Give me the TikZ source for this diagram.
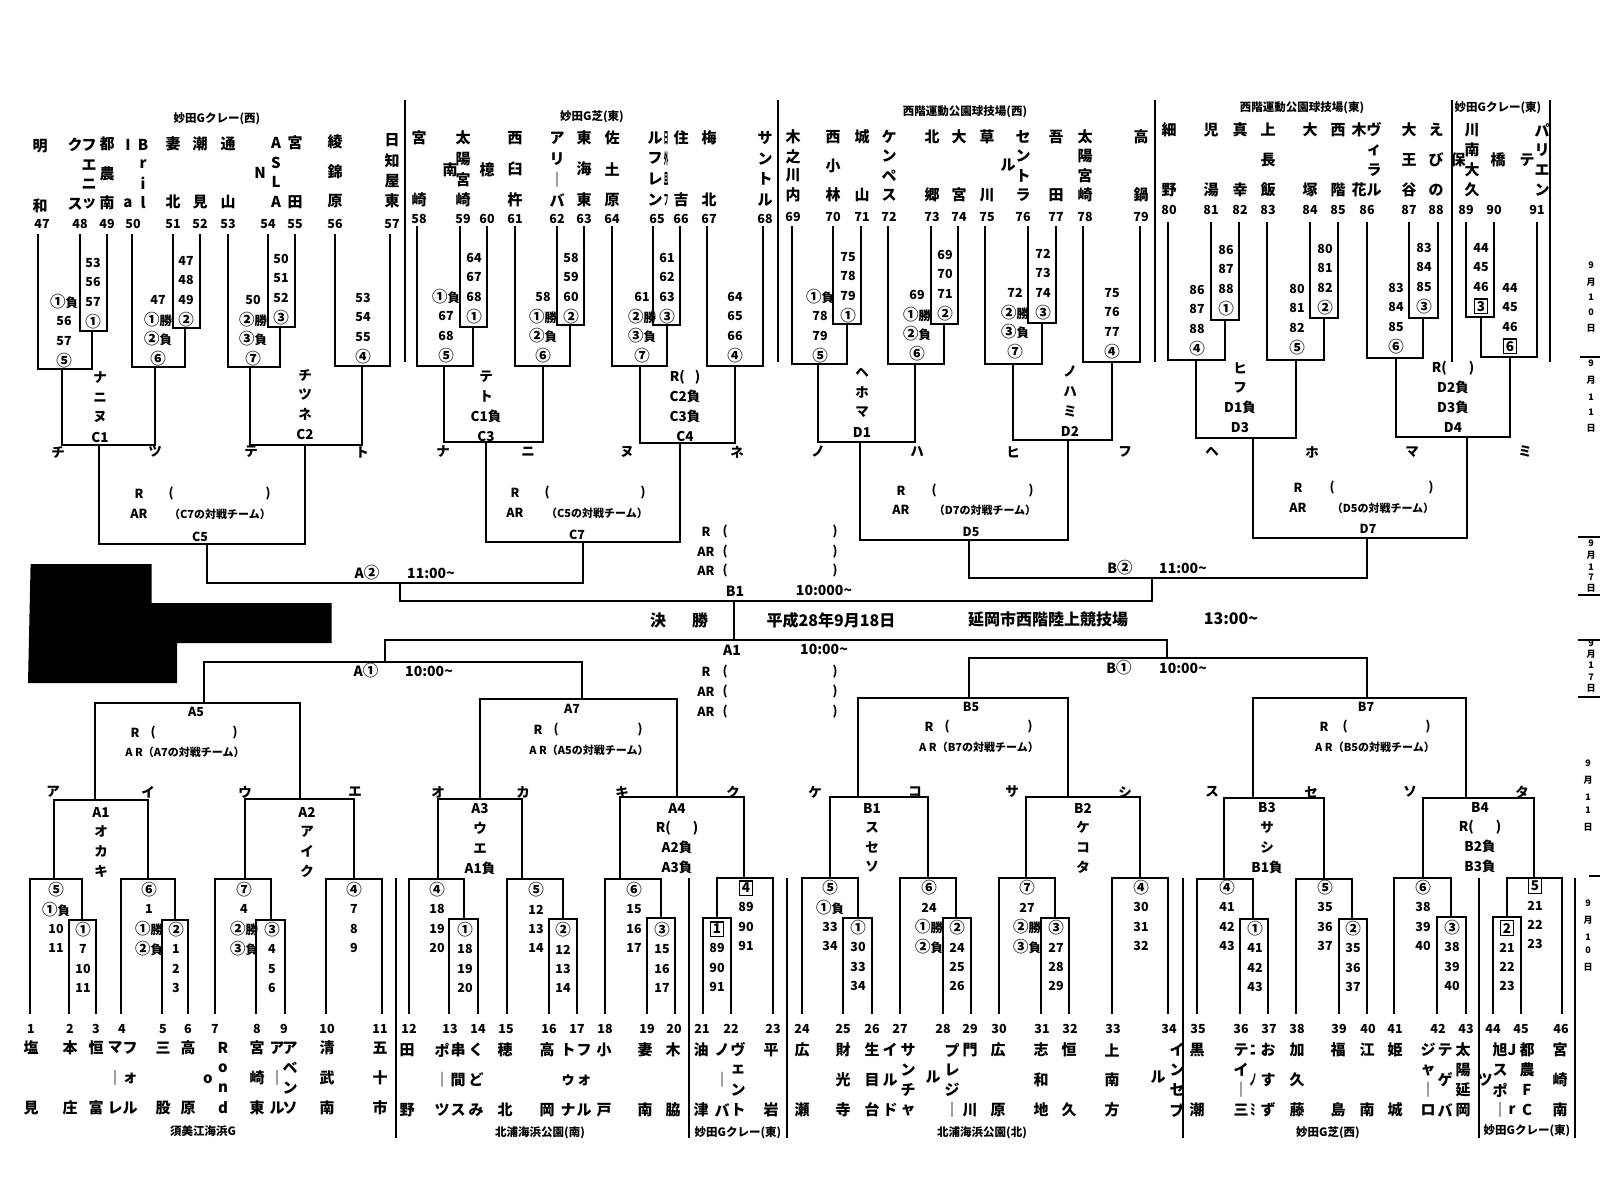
\documentclass[tikz,border=0pt]{standalone}
\usepackage{fontspec}
\usepackage{graphicx}
\setmainfont{Noto Sans CJK JP}
\setlength{\fboxsep}{1.6pt}\setlength{\fboxrule}{1.1pt}
\tikzset{
 ln/.style={line width=1.6pt, line cap=rect},
 thin/.style={line width=1.2pt},
 nm/.style={font=\fontsize{15}{15}\selectfont\bfseries, inner sep=0pt},
 num/.style={font=\fontsize{12.5}{12.5}\selectfont\bfseries, inner sep=0pt},
 lb/.style={font=\fontsize{12.5}{12.5}\selectfont\bfseries, inner sep=0pt},
 kn/.style={font=\fontsize{13.5}{13.5}\selectfont\bfseries, inner sep=0pt},
 ven/.style={font=\fontsize{11.5}{11.5}\selectfont\bfseries, inner sep=0pt},
 mid/.style={font=\fontsize{12.5}{12.5}\selectfont\bfseries, inner sep=0pt},
 sm/.style={font=\fontsize{11}{11}\selectfont\bfseries, inner sep=0pt},
 tm/.style={font=\fontsize{14}{14}\selectfont\bfseries, inner sep=0pt},
 big/.style={font=\fontsize{16}{16}\selectfont\bfseries, inner sep=0pt},
 dt/.style={font=\fontsize{9}{9}\selectfont\bfseries, inner sep=0pt},
}
\newcommand\Cn[1]{{\fontsize{15.5}{15.5}\selectfont #1}}
\newcommand\Sq[1]{\fbox{\fontsize{13.5}{13.5}\selectfont #1}}
\newcommand\Col[5]{\foreach \tx [count=\ii] in {#5}{\node[nm] at (#1,{#2+(\ii-1)*(#3-#2)/(#4-1)}) {\tx};}}
\newcommand\Lab[3]{\foreach \tx [count=\ii] in {#3}{\node[lb] at (#1,{#2+(\ii-1)*19.4}) {\tx};}}
\newcommand\Grp[3]{\foreach \tx [count=\ii] in {#3}{\node[kn] at (#1,{#2+(\ii-1)*19.7}) {\tx};}}
% y0, xA, xB, xC, xs, yb, y2, xo, yC
\newcommand\TopT[9]{\draw[ln] (#2,#1)--(#2,#7)--(#5,#7)--(#5,#6);
 \draw[ln] (#3,#1)--(#3,#6)--(#4,#6)--(#4,#1);
 \draw[ln] (#8,#7)--(#8,#9);}
% y0, xA, xB, y2, xo, yC
\newcommand\TopP[6]{\draw[ln] (#2,#1)--(#2,#4)--(#3,#4)--(#3,#1);
 \draw[ln] (#5,#4)--(#5,#6);}
\begin{document}
\begin{tikzpicture}[x=1pt,y=-1pt]
\fill[white] (0,0) rectangle (1600,1181);
\useasboundingbox (0,0) rectangle (1600,1181);

% ===== top brackets =====
\TopT{235}{38}{80}{107}{92}{331}{369}{62}{445}
\TopT{235}{132}{173}{200}{185}{328}{367}{155}{445}
\TopT{235}{228}{268}{295}{280}{327}{367}{250}{445}
\TopP{235}{335}{390}{366}{362}{445}
\draw[ln] (62,445)--(155,445); \draw[ln] (250,445)--(362,445);

\TopT{227}{417}{460}{487}{473}{327}{366}{444}{442}
\TopT{227}{515}{557}{584}{570}{325}{366}{543}{442}
\TopT{227}{612}{653}{680}{667}{325}{366}{640}{443}
\TopP{227}{707}{763}{366}{735}{443}
\draw[ln] (444,442)--(543,442); \draw[ln] (640,443)--(735,443);

\TopT{227}{792}{833}{861}{847}{324}{364}{818}{442}
\TopT{227}{888}{931}{958}{944}{324}{364}{915}{442}
\TopT{227}{985}{1028}{1056}{1042}{323}{364}{1013}{440}
\TopP{227}{1083}{1140}{362}{1112}{440}
\draw[ln] (818,442)--(915,442); \draw[ln] (1013,440)--(1112,440);

\TopT{223}{1168}{1211}{1239}{1225}{320}{360}{1196}{438}
\TopT{223}{1267}{1310}{1338}{1324}{318}{360}{1296}{438}
\TopT{223}{1367}{1409}{1438}{1423}{318}{358}{1396}{437}
\TopT{223}{1537}{1466}{1494}{1481}{317}{357}{1510}{437}
\draw[ln] (1196,438)--(1296,438); \draw[ln] (1396,437)--(1510,437);

% ===== middle =====
\draw[ln] (99,445)--(99,544)--(305,544)--(305,445);
\draw[ln] (486,442)--(486,542)--(680,542)--(680,443);
\draw[ln] (860,442)--(860,540)--(1068,540)--(1068,440);
\draw[ln] (1253,438)--(1253,538)--(1467,538)--(1467,437);
\draw[ln] (207,544)--(207,583)--(583,583)--(583,542);
\draw[ln] (400,583)--(400,601);
\draw[ln] (969,540)--(969,578)--(1367,578)--(1367,538);
\draw[ln] (1152,578)--(1152,601);
\draw[ln] (400,601)--(1152,601);
\draw[ln] (734,601)--(734,640);
\draw[ln] (385,662)--(385,640)--(1167,640)--(1167,658);
\draw[ln] (204,703)--(204,662)--(582,662)--(582,699);
\draw[ln] (969,698)--(969,658)--(1367,658)--(1367,698);
\draw[ln] (95,800)--(95,703)--(300,703)--(300,799);
\draw[ln] (480,799)--(480,699)--(677,699)--(677,797);
\draw[ln] (858,797)--(858,698)--(1068,698)--(1068,797);
\draw[ln] (1253,798)--(1253,698)--(1466,698)--(1466,798);

% ===== bottom brackets =====
\TopT{1013}{30}{69}{96}{82}{920}{879}{54}{800}
\TopT{1013}{121}{162}{188}{175}{920}{879}{148}{800}
\TopT{1013}{215}{256}{285}{271}{920}{879}{245}{799}
\TopP{1013}{326}{382}{879}{354}{799}
\draw[ln] (54,800)--(148,800); \draw[ln] (245,799)--(354,799);

\TopT{1013}{409}{449}{478}{464}{919}{879}{438}{799}
\TopT{1013}{507}{549}{577}{563}{919}{879}{522}{799}
\TopT{1013}{605}{647}{675}{661}{918}{879}{620}{797}
\TopT{1013}{773}{703}{731}{717}{918}{878}{744}{797}
\draw[ln] (438,799)--(522,799); \draw[ln] (620,797)--(744,797);

\TopT{1013}{802}{843}{872}{858}{918}{878}{830}{797}
\TopT{1013}{900}{943}{971}{956}{918}{878}{928}{797}
\TopT{1013}{999}{1041}{1069}{1055}{918}{878}{1026}{797}
\TopP{1013}{1112}{1168}{878}{1140}{797}
\draw[ln] (830,797)--(928,797); \draw[ln] (1026,797)--(1140,797);

\TopT{1013}{1197}{1240}{1268}{1253}{919}{879}{1224}{798}
\TopT{1013}{1296}{1339}{1367}{1352}{919}{879}{1324}{798}
\TopT{1013}{1394}{1437}{1466}{1451}{917}{878}{1423}{798}
\TopT{1013}{1562}{1493}{1521}{1507}{917}{878}{1534}{798}
\draw[ln] (1224,798)--(1324,798); \draw[ln] (1423,798)--(1534,798);

% dividers
\foreach \x in {405,778,1155,1452,1550} \draw[thin] (\x,100)--(\x,362);
\foreach \x in {396,689,787,1183,1479,1575} \draw[thin] (\x,878)--(\x,1138);
\draw[thin] (1580,357)--(1600,357);
\draw[thin] (1578,537)--(1600,537); \draw[thin] (1578,595)--(1600,595);
\draw[thin] (1578,640)--(1600,640); \draw[thin] (1578,697)--(1600,697);
\draw[thin] (1589,876)--(1600,876);

% redaction block
\fill[black] (30.6,564)--(151.5,564)--(151.5,603)--(331.6,603)--(331.6,643)--(177,643)--(177,683)--(28,683)--cycle;

% ===== venue labels =====
\node[ven] at (217,119) {妙田Gクレー(西)};
\node[ven] at (592,117) {妙田G芝(東)};
\node[ven] at (965,112) {西階運動公園球技場(西)};
\node[ven] at (1302,108) {西階運動公園球技場(東)};
\node[ven] at (1498,108) {妙田Gクレー(東)};
\node[ven] at (203,1131) {須美江海浜G};
\node[ven] at (540,1133) {北浦海浜公園(南)};
\node[ven] at (738,1133) {妙田Gクレー(東)};
\node[ven] at (982,1133) {北浦海浜公園(北)};
\node[ven] at (1328,1133) {妙田G芝(西)};
\node[ven] at (1527,1131) {妙田Gクレー(東)};

% ===== team names top =====
\Col{40}{146}{206}{2}{明,和}
\Col{89}{145}{204}{4}{フ,エ,ニ,ッ}
\Col{75}{145}{204}{2}{ク,ス}
\Col{107}{144}{203}{3}{都,農,南}
\Col{143}{145}{203}{4}{B,r,i,l}
\Col{128}{145}{203}{2}{I,a}
\Col{173}{144}{202}{2}{妻,北}
\Col{200}{144}{202}{2}{潮,見}
\Col{228}{144}{202}{2}{通,山}
\Col{276}{143}{202}{4}{A,S,L,A}
\node[nm] at (260,173){N};
\Col{295}{143}{202}{2}{宮,田}
\Col{335}{142}{201}{3}{綾,錦,原}
\Col{392}{140}{201}{4}{日,知,屋,東}

\Col{419}{138}{200}{2}{宮,崎}
\Col{463}{138}{200}{4}{太,陽,宮,崎}
\node[nm] at (450,170){南};
\node[nm] at (487,170){檍};
\Col{515}{138}{200}{3}{西,臼,杵}
\Col{557}{138}{200}{4}{ア,リ,｜,バ}
\Col{584}{138}{200}{3}{東,海,東}
\Col{612}{138}{200}{3}{佐,土,原}
\Col{655}{138}{200}{4}{ル,フ,レ,ン}
\Col{666}{138}{200}{4}{\scalebox{0.3}[1]{日},\scalebox{0.3}[1]{外},\scalebox{0.3}[1]{且},\scalebox{0.3}[1]{フ}}
\Col{681}{138}{200}{2}{住,吉}
\Col{709}{138}{200}{2}{梅,北}
\Col{765}{138}{200}{4}{サ,ン,ト,ル}

\Col{793}{137}{195}{4}{木,之,川,内}
\Col{833}{137}{195}{3}{西,小,林}
\Col{862}{137}{195}{2}{城,山}
\Col{889}{137}{195}{4}{ケ,ン,ペ,ス}
\Col{932}{137}{195}{2}{北,郷}
\Col{959}{137}{195}{2}{大,宮}
\Col{987}{137}{195}{2}{草,川}
\Col{1023}{137}{195}{4}{セ,ン,ト,ラ}
\node[nm] at (1008,165){ル};
\Col{1056}{137}{195}{2}{吾,田}
\Col{1085}{137}{195}{4}{太,陽,宮,崎}
\Col{1141}{137}{195}{2}{高,鍋}

\Col{1169}{130}{190}{2}{細,野}
\Col{1211}{130}{190}{2}{児,湯}
\Col{1240}{130}{190}{2}{真,幸}
\Col{1268}{130}{190}{3}{上,長,飯}
\Col{1310}{130}{190}{2}{大,塚}
\Col{1338}{130}{190}{2}{西,階}
\Col{1374}{130}{190}{4}{ヴ,ィ,ラ,ル}
\Col{1359}{130}{190}{2}{木,花}
\Col{1409}{130}{190}{3}{大,王,谷}
\Col{1436}{130}{190}{3}{え,び,の}
\Col{1472}{130}{190}{4}{川,南,大,久}
\node[nm] at (1458,160){保};
\node[nm] at (1498,160){橋};
\Col{1542}{130}{190}{4}{パ,リ,エ,ン}
\node[nm] at (1527,160){テ};

% numbers top
\foreach \n/\x in {47/42,48/80,49/107,50/133,51/173,52/200,53/228,54/268,55/295,56/335,57/392}
  \node[num] at (\x,224) {\n};
\foreach \n/\x in {58/419,59/463,60/487,61/515,62/557,63/584,64/612,65/657,66/681,67/709,68/765}
  \node[num] at (\x,219) {\n};
\foreach \n/\x in {69/793,70/833,71/862,72/889,73/932,74/959,75/987,76/1023,77/1056,78/1085,79/1141}
  \node[num] at (\x,217) {\n};
\foreach \n/\x in {80/1169,81/1211,82/1240,83/1268,84/1310,85/1338,86/1367,87/1409,88/1436,89/1466,90/1494,91/1537}
  \node[num] at (\x,210) {\n};

% ===== team names bottom =====
\Col{31}{1048}{1108}{2}{塩,見}
\Col{70}{1048}{1108}{2}{本,庄}
\Col{96}{1048}{1108}{2}{恒,富}
\Col{115}{1048}{1108}{3}{マ,｜,レ}
\Col{130}{1048}{1108}{3}{フ,ォ,ル}
\Col{163}{1048}{1108}{2}{三,股}
\Col{188}{1048}{1108}{2}{高,原}
\Col{223}{1048}{1108}{4}{R,o,n,d}
\node[nm] at (208,1079){o};
\Col{257}{1048}{1108}{3}{宮,崎,東}
\Col{277}{1048}{1108}{3}{ア,｜,ル}
\Col{290}{1048}{1108}{4}{ア,ベ,ン,ソ}
\Col{327}{1048}{1108}{3}{清,武,南}
\Col{380}{1048}{1108}{3}{五,十,市}
\Col{407}{1050}{1110}{2}{田,野}
\Col{442}{1050}{1110}{3}{ポ,｜,ツ}
\Col{458}{1050}{1110}{3}{串,間,ス}
\Col{476}{1050}{1110}{3}{く,ど,み}
\Col{505}{1050}{1110}{2}{穂,北}
\Col{547}{1050}{1110}{2}{高,岡}
\Col{568}{1050}{1110}{3}{ト,ゥ,ナ}
\Col{584}{1050}{1110}{3}{フ,ォ,ル}
\Col{604}{1050}{1110}{2}{小,戸}
\Col{645}{1050}{1110}{2}{妻,南}
\Col{673}{1050}{1110}{2}{木,脇}
\Col{701}{1050}{1110}{2}{油,津}
\Col{722}{1050}{1110}{3}{ノ,｜,バ}
\Col{738}{1050}{1110}{4}{ヴ,ェ,ン,ト}
\Col{771}{1050}{1110}{2}{平,岩}
\Col{802}{1050}{1110}{2}{広,瀬}
\Col{843}{1050}{1110}{3}{財,光,寺}
\Col{872}{1050}{1110}{3}{生,目,台}
\Col{890}{1050}{1110}{3}{イ,ル,ド}
\Col{908}{1050}{1110}{4}{サ,ン,チ,ャ}
\Col{952}{1050}{1110}{4}{プ,レ,ジ,｜}
\node[nm] at (933,1077){ル};
\Col{970}{1050}{1110}{2}{門,川}
\Col{998}{1050}{1110}{2}{広,原}
\Col{1041}{1050}{1110}{3}{志,和,地}
\Col{1069}{1050}{1110}{2}{恒,久}
\Col{1112}{1050}{1110}{3}{上,南,方}
\Col{1177}{1050}{1110}{4}{イ,ン,セ,ブ}
\node[nm] at (1158,1077){ル};
\Col{1197}{1050}{1110}{2}{黒,潮}
\Col{1241}{1050}{1110}{4}{テ,イ,｜,三}
\Col{1253}{1050}{1110}{3}{\scalebox{0.35}[1]{ニ},\scalebox{0.5}[1]{ノ},\scalebox{0.35}[1]{ミ}}
\Col{1268}{1050}{1110}{3}{お,す,ず}
\Col{1297}{1050}{1110}{3}{加,久,藤}
\Col{1338}{1050}{1110}{2}{福,島}
\Col{1367}{1050}{1110}{2}{江,南}
\Col{1395}{1050}{1110}{2}{姫,城}
\Col{1428}{1050}{1110}{4}{ジ,ャ,｜,ロ}
\Col{1445}{1050}{1110}{3}{テ,ゲ,バ}
\Col{1463}{1050}{1110}{4}{太,陽,延,岡}
\Col{1500}{1050}{1110}{4}{旭,ス,ポ,｜}
\node[nm] at (1485,1080){ツ};
\Col{1512}{1050}{1110}{2}{J,r}
\Col{1527}{1050}{1110}{4}{都,農,F,C}
\Col{1560}{1050}{1110}{3}{宮,崎,南}

% numbers bottom
\foreach \n/\x in {1/31,2/70,3/96,4/122,5/163,6/188,7/215,8/257,9/284,10/327,11/380,12/409,13/450,14/478,15/506,16/549,17/577,18/605,19/647,20/674,21/702,22/731,23/773,24/802,25/843,26/872,27/900,28/943,29/970,30/999,31/1042,32/1070,33/1113,34/1169,35/1198,36/1241,37/1269,38/1297,39/1339,40/1368,41/1395,42/1438,43/1466,44/1493,45/1521,46/1561}
  \node[num] at (\x,1029) {\n};

% ===== match labels top =====
\Lab{93}{263}{53,56,57,\Cn{①}}
\Lab{64}{302}{\Cn{①}負,56,57,\Cn{⑤}}
\Lab{186}{261}{47,48,49,\Cn{②}}
\Lab{158}{300}{47,\Cn{①}勝,\Cn{②}負,\Cn{⑥}}
\Lab{281}{259}{50,51,52,\Cn{③}}
\Lab{253}{300}{50,\Cn{②}勝,\Cn{③}負,\Cn{⑦}}
\Lab{363}{298}{53,54,55,\Cn{④}}
\Grp{100}{378}{ナ,ニ,ヌ,C1}
\Grp{305}{375}{チ,ツ,ネ,C2}

\Lab{474}{258}{64,67,68,\Cn{①}}
\Lab{446}{297}{\Cn{①}負,67,68,\Cn{⑤}}
\Lab{571}{258}{58,59,60,\Cn{②}}
\Lab{543}{297}{58,\Cn{①}勝,\Cn{②}負,\Cn{⑥}}
\Lab{667}{258}{61,62,63,\Cn{③}}
\Lab{642}{297}{61,\Cn{②}勝,\Cn{③}負,\Cn{⑦}}
\Lab{735}{297}{64,65,66,\Cn{④}}
\Grp{486}{377}{テ,ト,C1負,C3}
\Grp{685}{377}{{R(\hspace{10pt})},C2負,C3負,C4}

\Lab{848}{257}{75,78,79,\Cn{①}}
\Lab{820}{297}{\Cn{①}負,78,79,\Cn{⑤}}
\Lab{945}{255}{69,70,71,\Cn{②}}
\Lab{917}{295}{69,\Cn{①}勝,\Cn{②}負,\Cn{⑥}}
\Lab{1043}{254}{72,73,74,\Cn{③}}
\Lab{1015}{293}{72,\Cn{②}勝,\Cn{③}負,\Cn{⑦}}
\Lab{1112}{293}{75,76,77,\Cn{④}}
\Grp{862}{373}{ヘ,ホ,マ,D1}
\Grp{1070}{372}{ノ,ハ,ミ,D2}

\Lab{1226}{250}{86,87,88,\Cn{①}}
\Lab{1197}{290}{86,87,88,\Cn{④}}
\Lab{1325}{249}{80,81,82,\Cn{②}}
\Lab{1297}{289}{80,81,82,\Cn{⑤}}
\Lab{1424}{248}{83,84,85,\Cn{③}}
\Lab{1396}{288}{83,84,85,\Cn{⑥}}
\Lab{1481}{248}{44,45,46,\Sq{3}}
\Lab{1510}{288}{44,45,46,\Sq{6}}
\Grp{1240}{368}{ヒ,フ,D1負,D3}
\Grp{1453}{368}{{R(\hspace{22pt})},D2負,D3負,D4}

\foreach \t/\x in {チ/58,ツ/155,テ/251,ト/362,ナ/443,ニ/528,ヌ/627,ネ/737,ノ/818,ハ/917,ヒ/1013,フ/1125,ヘ/1212,ホ/1312,マ/1412,ミ/1525}
  \node[kn] at (\x,452) {\t};

% ===== match labels bottom =====
\Lab{56}{890}{\Cn{⑤},\Cn{①}負,10,11}
\Lab{83}{930}{\Cn{①},7,10,11}
\Lab{149}{890}{\Cn{⑥},1,\Cn{①}勝,\Cn{②}負}
\Lab{176}{930}{\Cn{②},1,2,3}
\Lab{244}{890}{\Cn{⑦},4,\Cn{②}勝,\Cn{③}負}
\Lab{272}{930}{\Cn{③},4,5,6}
\Lab{354}{890}{\Cn{④},7,8,9}
\Grp{101}{812}{A1,オ,カ,キ}
\Grp{307}{812}{A2,ア,イ,ク}

\Lab{437}{890}{\Cn{④},18,19,20}
\Lab{465}{930}{\Cn{①},18,19,20}
\Lab{536}{890}{\Cn{⑤},12,13,14}
\Lab{563}{930}{\Cn{②},12,13,14}
\Lab{634}{890}{\Cn{⑥},15,16,17}
\Lab{662}{930}{\Cn{③},15,16,17}
\Lab{746}{888}{\Sq{4},89,90,91}
\Lab{717}{929}{\Sq{1},89,90,91}
\Grp{480}{809}{A3,ウ,エ,A1負}
\Grp{677}{808}{A4,{R(\hspace{22pt})},A2負,A3負}

\Lab{830}{888}{\Cn{⑤},\Cn{①}負,33,34}
\Lab{858}{928}{\Cn{①},30,33,34}
\Lab{929}{888}{\Cn{⑥},24,\Cn{①}勝,\Cn{②}負}
\Lab{957}{928}{\Cn{②},24,25,26}
\Lab{1027}{888}{\Cn{⑦},27,\Cn{②}勝,\Cn{③}負}
\Lab{1056}{928}{\Cn{③},27,28,29}
\Lab{1141}{888}{\Cn{④},30,31,32}
\Grp{872}{808}{B1,ス,セ,ソ}
\Grp{1083}{808}{B2,ケ,コ,タ}

\Lab{1227}{888}{\Cn{④},41,42,43}
\Lab{1255}{929}{\Cn{①},41,42,43}
\Lab{1325}{888}{\Cn{⑤},35,36,37}
\Lab{1353}{929}{\Cn{②},35,36,37}
\Lab{1423}{888}{\Cn{⑥},38,39,40}
\Lab{1452}{928}{\Cn{③},38,39,40}
\Lab{1535}{886}{\Sq{5},21,22,23}
\Lab{1507}{928}{\Sq{2},21,22,23}
\Grp{1267}{808}{B3,サ,シ,B1負}
\Grp{1480}{807}{B4,{R(\hspace{22pt})},B2負,B3負}

\foreach \t/\x in {ア/53,イ/148,ウ/245,エ/355,オ/438,カ/523,キ/622,ク/733,ケ/815,コ/915,サ/1012,シ/1125,ス/1212,セ/1311,ソ/1410,タ/1522}
  \node[kn] at (\x,792) {\t};

% ===== middle texts =====
\node[mid] at (139,494){R}; \node[mid] at (171,494){(}; \node[mid] at (268,494){)};
\node[mid] at (139,514){AR}; \node[sm] at (220,514){（C7の対戦チーム）};
\node[mid] at (200,537){C5};
\node[mid] at (515,493){R}; \node[mid] at (547,493){(}; \node[mid] at (643,493){)};
\node[mid] at (515,513){AR}; \node[sm] at (597,513){（C5の対戦チーム）};
\node[mid] at (577,535){C7};
\node[mid] at (901,491){R}; \node[mid] at (934,491){(}; \node[mid] at (1031,491){)};
\node[mid] at (901,510){AR}; \node[sm] at (985,510){（D7の対戦チーム）};
\node[mid] at (971,532){D5};
\node[mid] at (1298,488){R}; \node[mid] at (1332,488){(}; \node[mid] at (1431,488){)};
\node[mid] at (1298,508){AR}; \node[sm] at (1383,508){（D5の対戦チーム）};
\node[mid] at (1368,529){D7};

\node[mid] at (196,712){A5};
\node[mid] at (135,733){R}; \node[mid] at (153,733){(}; \node[mid] at (235,733){)};
\node[sm] at (185,752){A R（A7の対戦チーム）};
\node[mid] at (572,709){A7};
\node[mid] at (538,730){R}; \node[mid] at (556,730){(}; \node[mid] at (640,730){)};
\node[sm] at (589,750){A R（A5の対戦チーム）};
\node[mid] at (971,707){B5};
\node[mid] at (929,727){R}; \node[mid] at (947,727){(}; \node[mid] at (1030,727){)};
\node[sm] at (979,747){A R（B7の対戦チーム）};
\node[mid] at (1366,707){B7};
\node[mid] at (1324,727){R}; \node[mid] at (1345,727){(}; \node[mid] at (1428,727){)};
\node[sm] at (1375,747){A R（B5の対戦チーム）};

\node[tm] at (367,573){A\Cn{②}}; \node[tm] at (431,573){11:00\textasciitilde};
\node[tm] at (1120,568){B\Cn{②}}; \node[tm] at (1183,568){11:00\textasciitilde};
\node[tm] at (366,671){A\Cn{①}}; \node[tm] at (429,671){10:00\textasciitilde};
\node[tm] at (1119,668){B\Cn{①}}; \node[tm] at (1183,668){10:00\textasciitilde};
\node[tm] at (735,591){B1}; \node[tm] at (824,590){10:000\textasciitilde};
\node[tm] at (732,650){A1}; \node[tm] at (824,649){10:00\textasciitilde};
\foreach \y/\t in {532/R,552/AR,571/AR,672/R,692/AR,712/AR}{
  \node[mid] at (706,\y){\t}; \node[mid] at (725,\y){(}; \node[mid] at (835,\y){)};}

\node[big] at (658,620){決}; \node[big] at (700,620){勝};
\node[big] at (831,620){平成28年9月18日};
\node[big] at (1048,619){延岡市西階陸上競技場};
\node[big] at (1231,619){13:00\textasciitilde};

% ===== dates =====
\foreach \y/\t in {265/9,282/月,297/1,312/0,328/日,363/9,380/月,397/1,412/1,428/日,543/9,555/月,567/1,577/7,588/日,643/9,654/月,665/1,677/7,688/日}
  \node[dt] at (1591,\y){\t};
\foreach \y/\t in {763/9,780/月,797/1,810/1,827/日,903/9,920/月,937/1,950/0,967/日}
  \node[dt] at (1588,\y){\t};
\end{tikzpicture}
\end{document}
